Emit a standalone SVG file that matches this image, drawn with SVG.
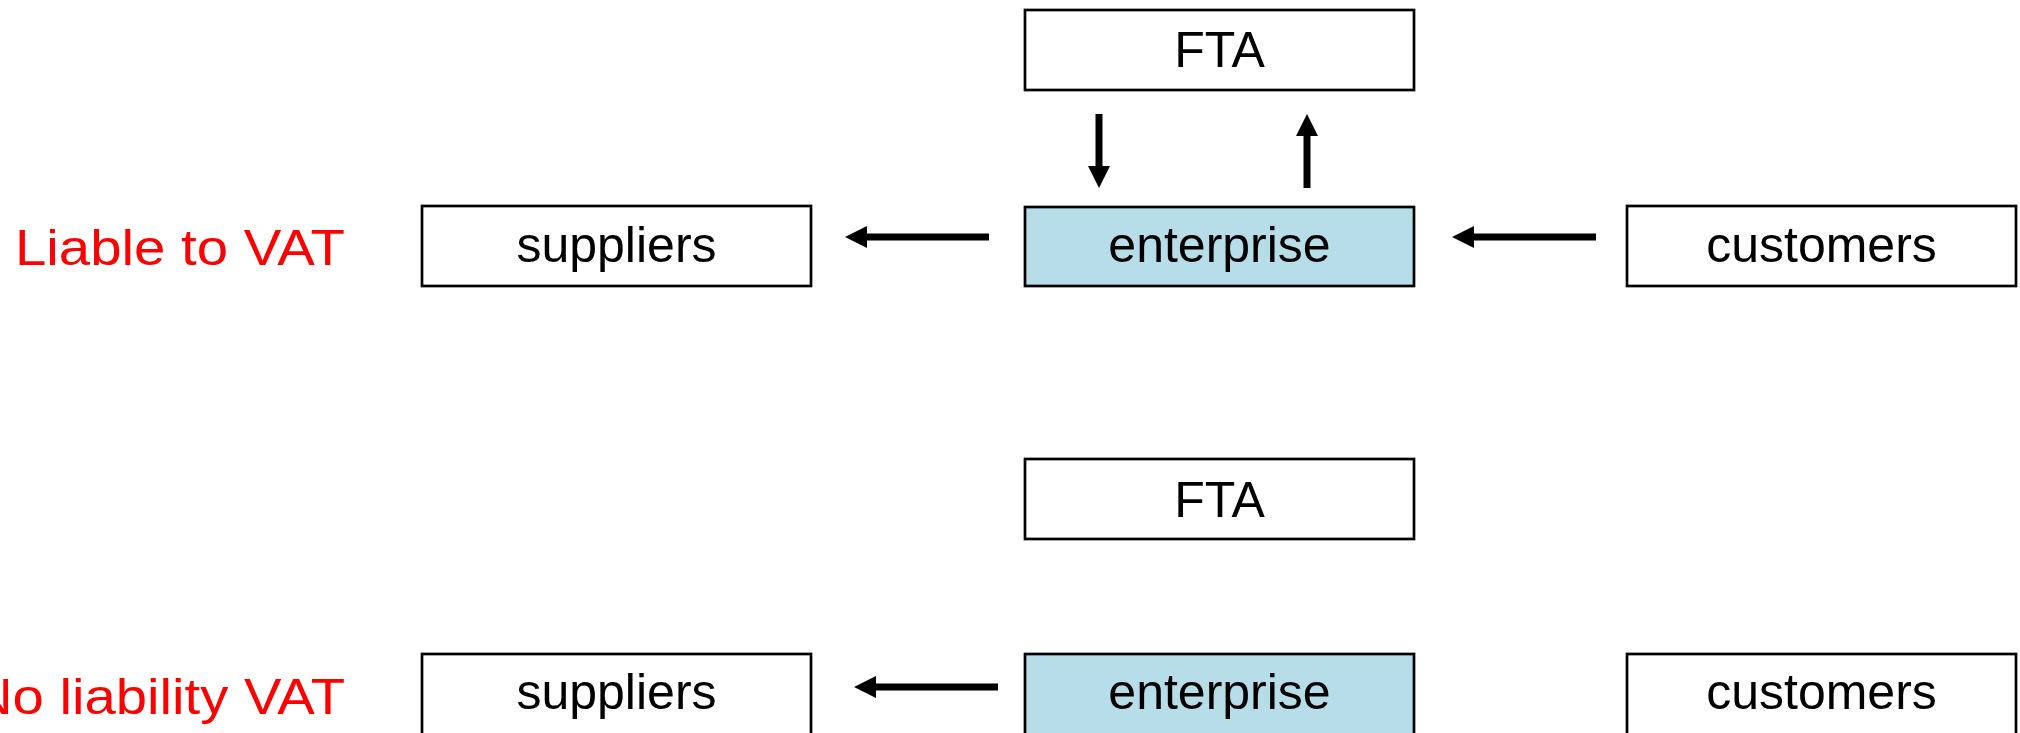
<svg xmlns="http://www.w3.org/2000/svg" width="2020" height="733" viewBox="0 0 2020 733">
  <style>
    .box { fill: #ffffff; stroke: #000000; stroke-width: 2.7; }
    .ent { fill: #b7dde8; stroke: #000000; stroke-width: 2.7; }
    .lbl { font-family: "Liberation Sans", Arial, sans-serif; font-size: 50px; fill: #000000; text-anchor: middle; }
    .side { font-family: "Liberation Sans", Arial, sans-serif; font-size: 50px; fill: #ff0000; }
    .conn { stroke: #000000; stroke-width: 7; fill: none; marker-end: url(#ah); }
  </style>
  <defs>
    <marker id="ah" markerUnits="userSpaceOnUse" viewBox="0 -11 22 22" refX="0" refY="0" markerWidth="22" markerHeight="22" orient="auto">
      <path d="M0,-11 L22,0 L0,11 Z" fill="#000000"/>
    </marker>
  </defs>
  <rect width="2020" height="733" fill="#ffffff"/>

  <text class="side" x="15" y="265" textLength="330" lengthAdjust="spacingAndGlyphs">Liable to VAT</text>
  <text class="side" x="-28" y="714" textLength="373" lengthAdjust="spacingAndGlyphs">No liability VAT</text>

  <g id="fta-top">
    <rect class="box" x="1025" y="10" width="389" height="80"/>
    <text class="lbl" x="1219.5" y="67">FTA</text>
  </g>
  <g id="suppliers-top">
    <rect class="box" x="422" y="206" width="389" height="80"/>
    <text class="lbl" x="616.5" y="262">suppliers</text>
  </g>
  <g id="enterprise-top">
    <rect class="ent" x="1025" y="207" width="389" height="79"/>
    <text class="lbl" x="1219.5" y="262">enterprise</text>
  </g>
  <g id="customers-top">
    <rect class="box" x="1627" y="206" width="389" height="80"/>
    <text class="lbl" x="1821.5" y="262">customers</text>
  </g>

  <g id="fta-bottom">
    <rect class="box" x="1025" y="459" width="389" height="80"/>
    <text class="lbl" x="1219.5" y="517">FTA</text>
  </g>
  <g id="suppliers-bottom">
    <rect class="box" x="422" y="654" width="389" height="90"/>
    <text class="lbl" x="616.5" y="709">suppliers</text>
  </g>
  <g id="enterprise-bottom">
    <rect class="ent" x="1025" y="654" width="389" height="90"/>
    <text class="lbl" x="1219.5" y="709">enterprise</text>
  </g>
  <g id="customers-bottom">
    <rect class="box" x="1627" y="654" width="389" height="90"/>
    <text class="lbl" x="1821.5" y="709">customers</text>
  </g>

  <g id="connectors">
    <line class="conn" x1="989" y1="237" x2="867" y2="237"/>
    <line class="conn" x1="1596" y1="237" x2="1474" y2="237"/>
    <line class="conn" x1="1099" y1="114" x2="1099" y2="166"/>
    <line class="conn" x1="1307" y1="188" x2="1307" y2="136"/>
    <line class="conn" x1="998" y1="687" x2="876" y2="687"/>
  </g>
</svg>
